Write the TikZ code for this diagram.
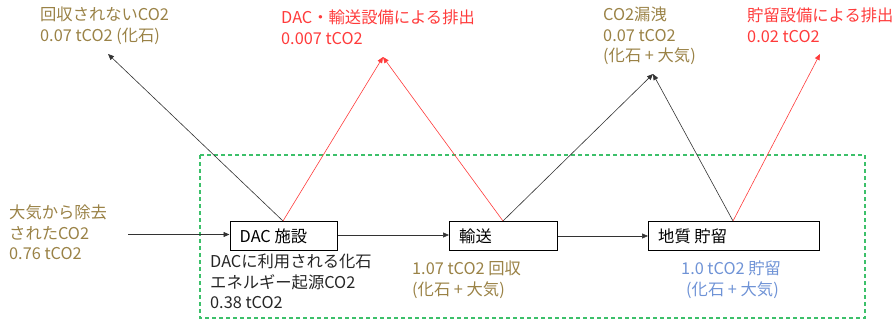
\documentclass[tikz,border=0pt]{standalone}
\usepackage{fontspec}
\setmainfont{Noto Sans CJK JP}
\usetikzlibrary{arrows.meta}
\definecolor{olivetxt}{HTML}{9A8246}
\definecolor{redtxt}{HTML}{FF3B3B}
\definecolor{bluetxt}{HTML}{6F93D6}
\definecolor{boxgreen}{HTML}{3CC06A}
\tikzset{
  lbl/.style={anchor=north west, inner sep=0pt, align=left, font=\fontsize{16.3}{20.3}\selectfont},
  stage/.style={draw=black, line width=1.1pt, fill=white, minimum height=29pt, inner sep=0pt, anchor=north west},
  stagetext/.style={inner sep=0pt, font=\fontsize{16.3}{18}\selectfont},
  flow/.style={draw=black!80, line width=0.6pt, -{Triangle[length=6pt,width=5pt]}},
  rflow/.style={draw=redtxt, line width=0.6pt, -{Triangle[length=6pt,width=5pt]}},
}
\begin{document}
\begin{tikzpicture}[x=1pt,y=-1pt]
\useasboundingbox (0,0) rectangle (895,320);
% green dashed system boundary
\draw[boxgreen, line width=1.1pt, dash pattern=on 4pt off 3pt] (200,155) rectangle (865,318);
% stages
\node[stage, minimum width=107pt] (dac) at (229.5,221) {};
\node[stagetext, anchor=west] (dact) at ([xshift=10pt]dac.west) {DAC 施設};
\node[stage, minimum width=108pt] (trans) at (449,221) {};
\node[stagetext, anchor=west] (transt) at ([xshift=10pt]trans.west) {輸送};
\node[stage, minimum width=171pt] (stor) at (648,221) {};
\node[stagetext, anchor=west] (stort) at ([xshift=10pt]stor.west) {地質 貯留};
% tops
\coordinate (dactop) at (283,221);
\coordinate (trtop) at (503,221);
\coordinate (sttop) at (733,221);
% arrow tips
\coordinate (tipA) at (108,54);
\coordinate (tipB) at (383,57);
\coordinate (tipC) at (653,74);
\coordinate (tipD) at (820,54);
\coordinate (inp) at (128,234.5);
% labels
\node[lbl, text=olivetxt] (lA) at (40,7) {回収されないCO2\\0.07 tCO2 (化石)};
\node[lbl, text=redtxt] (lB) at (281,10) {DAC・輸送設備による排出\\0.007 tCO2};
\node[lbl, text=olivetxt] (lC) at (603,7) {CO2漏洩\\0.07 tCO2\\(化石 + 大気)};
\node[lbl, text=redtxt] (lD) at (747,8) {貯留設備による排出\\0.02 tCO2};
\node[lbl, text=olivetxt] (lin) at (9,205) {大気から除去\\されたCO2\\0.76 tCO2};
\node[lbl, text=black!85] (lfos) at (210,254) {DACに利用される化石\\エネルギー起源CO2\\0.38 tCO2};
\node[lbl, text=olivetxt] (lcap) at (412,261) {1.07 tCO2 回収\\(化石 + 大気)};
\node[lbl, text=bluetxt] (lsto) at (681,261) {\hspace*{0pt}1.0 tCO2 貯留\\\hspace*{5pt}(化石 + 大気)};
% connectors
\draw[flow] (inp) -- (dac.west |- inp);
\draw[flow] (dac.east |- 0,235) -- (trans.west |- 0,235);
\draw[flow] (trans.east |- 0,236) -- (stor.west |- 0,236);
\draw[flow] (dactop) -- (tipA);
\draw[rflow] (dactop) -- (tipB);
\draw[rflow] (trtop) -- (tipB);
\draw[flow] (trtop) -- (tipC);
\draw[flow] (sttop) -- (tipC);
\draw[rflow] (sttop) -- (tipD);
\end{tikzpicture}
\end{document}
